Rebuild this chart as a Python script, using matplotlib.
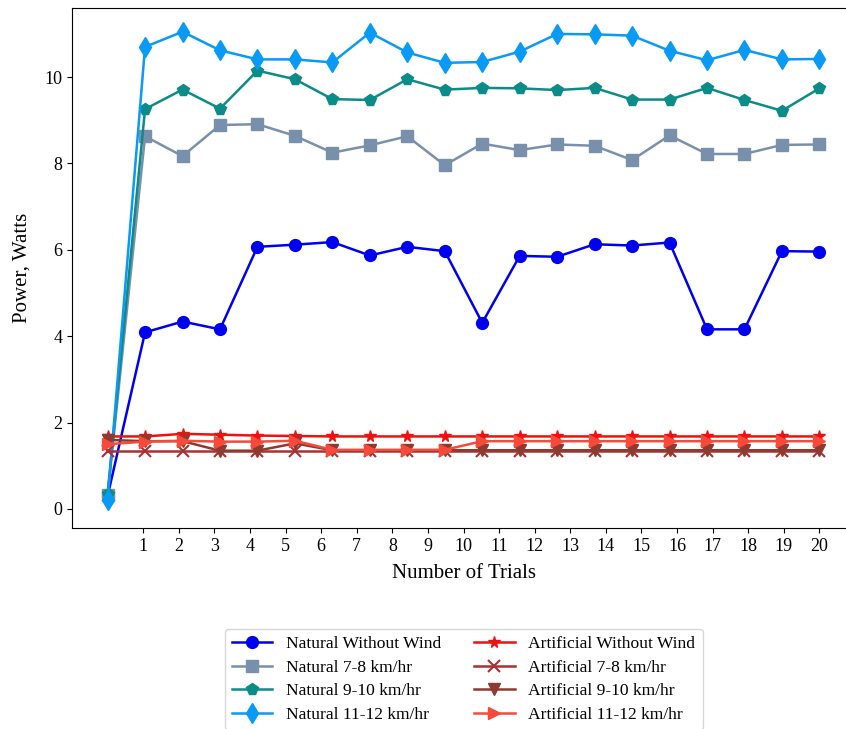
import numpy as np
import matplotlib
matplotlib.use("Agg")
import matplotlib.pyplot as plt

plt.rcParams['font.family'] = ['Liberation Serif', 'DejaVu Serif']

# 20 trials, drawn across 0..20
trials = np.linspace(0, 20, 20)

natural_none = [0.30, 4.09, 4.34, 4.16, 6.07, 6.12, 6.18, 5.87, 6.07, 5.97,
                4.31, 5.86, 5.84, 6.13, 6.10, 6.17, 4.16, 4.16, 5.97, 5.96]
natural_78 = [0.33, 8.63, 8.17, 8.89, 8.91, 8.64, 8.25, 8.42, 8.63, 7.96,
              8.46, 8.31, 8.44, 8.41, 8.08, 8.65, 8.22, 8.22, 8.43, 8.44]
natural_910 = [0.35, 9.26, 9.71, 9.27, 10.15, 9.95, 9.49, 9.47, 9.95, 9.71,
               9.75, 9.74, 9.70, 9.75, 9.48, 9.48, 9.75, 9.47, 9.22, 9.74]
natural_1112 = [0.20, 10.70, 11.05, 10.62, 10.41, 10.41, 10.34, 11.03, 10.57, 10.33,
                10.35, 10.59, 11.00, 10.99, 10.96, 10.61, 10.39, 10.63, 10.41, 10.42]

artificial_none = [1.68, 1.68, 1.74, 1.72, 1.70, 1.69, 1.68, 1.68, 1.68, 1.68,
                   1.68, 1.68, 1.68, 1.68, 1.68, 1.68, 1.68, 1.68, 1.68, 1.68]
artificial_78 = [1.34, 1.34, 1.34, 1.34, 1.34, 1.34, 1.34, 1.34, 1.34, 1.34,
                 1.34, 1.34, 1.34, 1.34, 1.34, 1.34, 1.34, 1.34, 1.34, 1.34]
artificial_910 = [1.60, 1.57, 1.57, 1.35, 1.35, 1.52, 1.36, 1.36, 1.36, 1.36,
                  1.36, 1.36, 1.36, 1.36, 1.36, 1.36, 1.36, 1.36, 1.36, 1.36]
artificial_1112 = [1.50, 1.56, 1.58, 1.56, 1.56, 1.58, 1.37, 1.37, 1.37, 1.37,
                   1.57, 1.57, 1.57, 1.57, 1.57, 1.57, 1.57, 1.57, 1.57, 1.57]

fig = plt.figure(figsize=(8.46, 7.29), dpi=100)
ax = fig.add_axes([72 / 846, 201 / 729, 783 / 846, 520 / 729])

ms = 8.5
lw = 1.8
ax.plot(trials, natural_none, marker='o', color='#0000F0', ms=ms, lw=lw, label='Natural Without Wind')
ax.plot(trials, natural_78, marker='s', color='#7890AC', ms=ms, lw=lw, label='Natural 7-8 km/hr')
ax.plot(trials, natural_910, marker='p', color='#0B8C88', ms=ms, lw=lw, label='Natural 9-10 km/hr')
ax.plot(trials, natural_1112, marker='d', color='#089AF5', ms=10, lw=lw, label='Natural 11-12 km/hr')
ax.plot(trials, artificial_none, marker='*', color='#F01010', ms=ms, lw=lw, label='Artificial Without Wind')
ax.plot(trials, artificial_78, marker='x', color='#A83232', ms=ms, mew=1.5, lw=lw, label='Artificial 7-8 km/hr')
ax.plot(trials, artificial_910, marker='v', color='#8E3A2E', ms=ms, lw=lw, label='Artificial 9-10 km/hr')
ax.plot(trials, artificial_1112, marker='>', color='#F8493A', ms=ms, lw=lw, label='Artificial 11-12 km/hr')

ax.set_xlim(-1, 21)
ax.set_ylim(-0.44, 11.6)
ax.set_xticks(range(1, 21))
ax.set_yticks([0, 2, 4, 6, 8, 10])
ax.tick_params(labelsize=13)
ax.set_xlabel('Number of Trials', fontsize=15, labelpad=7)
ax.set_ylabel('Power, Watts', fontsize=15, labelpad=9)

ax.legend(loc='upper center', bbox_to_anchor=(0.5, -0.177), ncol=2, fontsize=12.6,
          columnspacing=1.9, handlelength=2.3, labelspacing=0.42)

fig.savefig('out.png', dpi=100)
